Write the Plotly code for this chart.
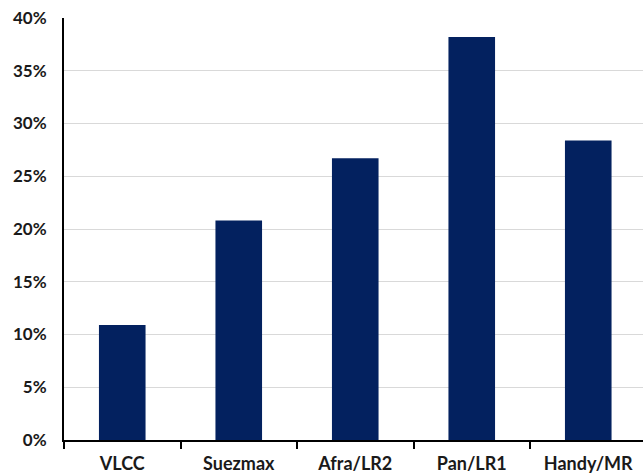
import plotly.graph_objects as go

# Share by vessel class
categories = ["VLCC", "Suezmax", "Afra/LR2", "Pan/LR1", "Handy/MR"]
shares = [0.109, 0.208, 0.267, 0.382, 0.284]
y_ticks = [0, 0.05, 0.10, 0.15, 0.20, 0.25, 0.30, 0.35, 0.40]

bar_color = "#03215F"
text_color = "#1a1a1a"
x_font = dict(family="Lato", size=18, color=text_color, weight="bold")
y_font = dict(family="Lato", size=17, color=text_color, weight="bold")

fig = go.Figure(
    go.Bar(
        x=categories,
        y=shares,
        marker=dict(color=bar_color, line=dict(width=0)),
    )
)

fig.update_layout(
    width=643,
    height=475,
    margin=dict(l=64, r=0, t=18, b=35),
    paper_bgcolor="white",
    plot_bgcolor="white",
    bargap=0.6,
    showlegend=False,
    font=y_font,
)

fig.update_xaxes(
    type="category",
    range=[-0.5, 4.47],
    showline=True,
    linecolor="black",
    linewidth=2,
    ticks="outside",
    tickson="boundaries",
    ticklen=7,
    tickwidth=2,
    tickcolor="black",
    tickfont=x_font,
    ticklabelstandoff=6,
    showgrid=False,
    zeroline=False,
)

fig.update_yaxes(
    range=[0, 0.4],
    tickvals=y_ticks,
    tickformat=".0%",
    showline=True,
    linecolor="black",
    linewidth=2,
    ticks="",
    ticklabelstandoff=12,
    tickfont=y_font,
    showgrid=True,
    gridcolor="#d9d9d9",
    gridwidth=1,
    zeroline=False,
)

fig.write_html("out.html")
